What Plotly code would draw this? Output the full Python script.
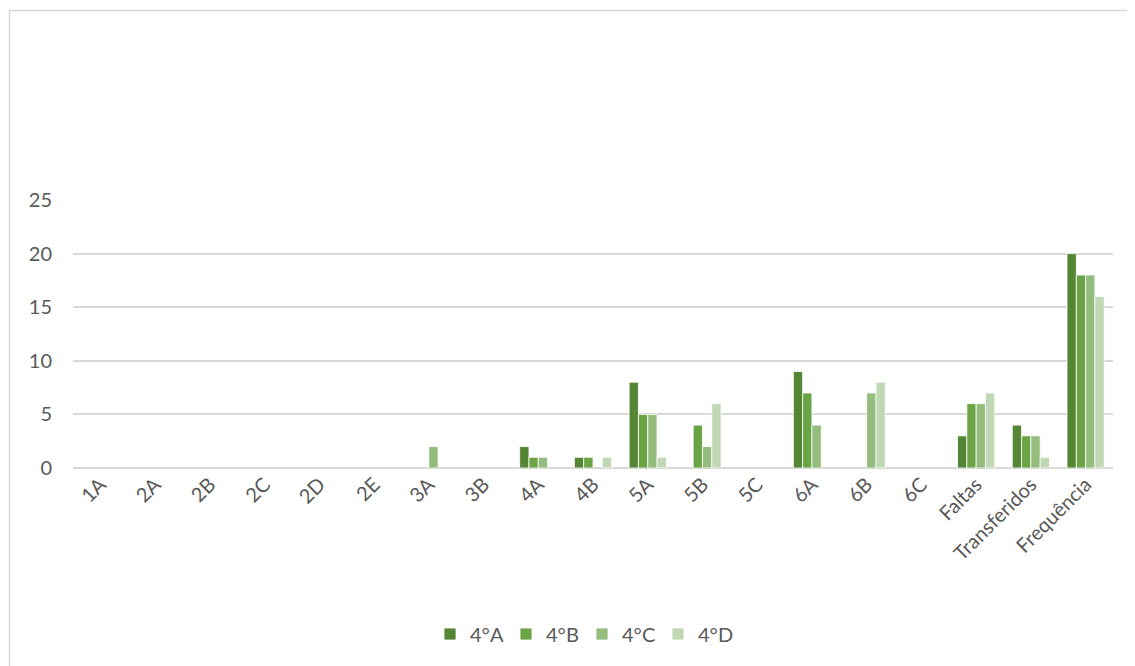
import plotly.graph_objects as go

categories = ["1A", "2A", "2B", "2C", "2D", "2E", "3A", "3B", "4A", "4B", "5A", "5B",
              "5C", "6A", "6B", "6C", "Faltas", "Transferidos", "Frequência"]
series_names = ["4°A", "4°B", "4°C", "4°D"]
vals_4A = [0, 0, 0, 0, 0, 0, 0, 0, 2, 1, 8, 0, 0, 9, 0, 0, 3, 4, 20]
vals_4B = [0, 0, 0, 0, 0, 0, 0, 0, 1, 1, 5, 4, 0, 7, 0, 0, 6, 3, 18]
vals_4C = [0, 0, 0, 0, 0, 0, 2, 0, 1, 0, 5, 2, 0, 4, 7, 0, 6, 3, 18]
vals_4D = [0, 0, 0, 0, 0, 0, 0, 0, 0, 1, 1, 6, 0, 0, 8, 0, 7, 1, 16]
y_ticks = [0, 5, 10, 15, 20, 25]

colors = ["#558636", "#6aa444", "#94bc7c", "#c0d8b4"]
FONT = "Lato, 'Open Sans', sans-serif"
OFF = 8  # default page body margin
W, H = 1135 - OFF, 666 - OFF
L, R, T, B = 73 - OFF, 1113 - OFF, 200 - OFF, 468 - OFF
pw, ph = R - L, B - T

def px(x):
    return (x - OFF - L) / pw

def py(y):
    return (B - (y - OFF)) / ph

fig = go.Figure()
for name, vals, col in zip(series_names, [vals_4A, vals_4B, vals_4C, vals_4D], colors):
    fig.add_trace(go.Bar(
        x=categories, y=[v if v else None for v in vals], name=name,
        marker=dict(color=col, line=dict(color="white", width=0.8)),
    ))

fig.update_layout(
    width=W, height=H,
    margin=dict(l=L, r=W - R, t=T, b=H - B, pad=0),
    paper_bgcolor="white", plot_bgcolor="white",
    barmode="group", bargap=0.32, bargroupgap=0,
    font=dict(family=FONT, size=20, color="#595959"),
    showlegend=True,
    legend=dict(orientation="h", x=px(582), xanchor="center", y=py(634), yanchor="middle",
                font=dict(size=20, color="#595959"), entrywidth=31, traceorder="normal"),
    xaxis=dict(tickangle=-45, showgrid=False, showline=False, ticks="",
               tickfont=dict(size=20, color="#595959")),
    yaxis=dict(range=[0, 25], tickvals=y_ticks, showgrid=True, gridcolor="#d9d9d9", gridwidth=1.5,
               zeroline=True, zerolinecolor="#d9d9d9", zerolinewidth=1.5, showline=False,
               ticks="", ticklabelstandoff=20, tickfont=dict(size=20, color="#595959")),
    shapes=[dict(type="rect", xref="paper", yref="paper",
                 x0=px(9.5), x1=px(1134), y0=py(672), y1=py(10.5),
                 line=dict(color="#d9d9d9", width=1.5), fillcolor="rgba(0,0,0,0)", layer="below")],
)

fig.write_html("out.html")
